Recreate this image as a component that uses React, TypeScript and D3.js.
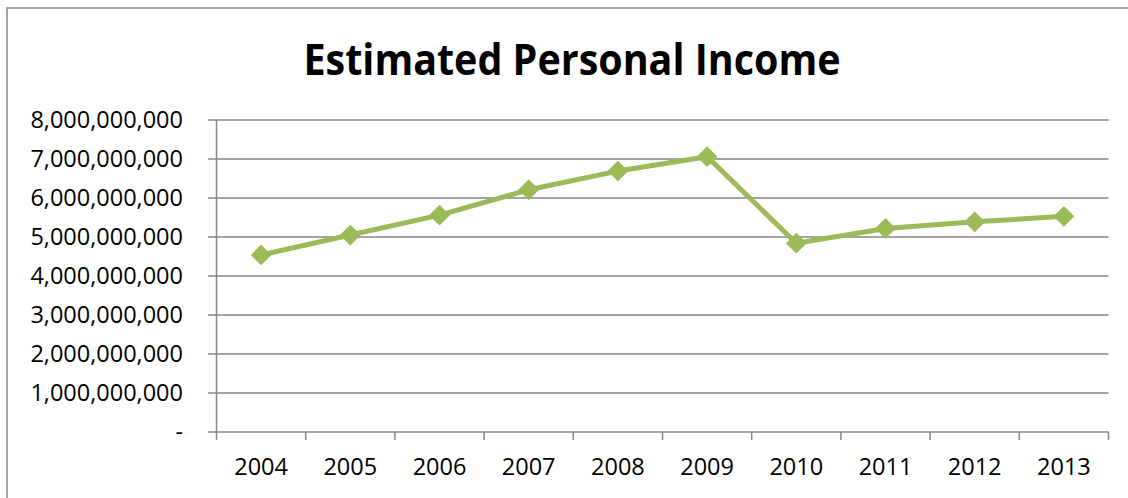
import React from "react";
import * as d3 from "d3";

const width = 1128;
const height = 498;

const years = ["2004", "2005", "2006", "2007", "2008", "2009", "2010", "2011", "2012", "2013"];
const income = [
  4540000000, 5050000000, 5560000000, 6210000000, 6690000000,
  7060000000, 4840000000, 5220000000, 5390000000, 5530000000,
];
const yTicks = [0, 1e9, 2e9, 3e9, 4e9, 5e9, 6e9, 7e9, 8e9];

const marginLeft = 216.5;
const marginRight = 19.5;
const marginTop = 120;
const plotBottom = 432;

const gridColor = "#868686";
const lineColor = "#9BBB59";
const font = "'Open Sans', 'Liberation Sans', sans-serif";

const fmt = (v: number) => (v === 0 ? "-" : d3.format(",")(v));

export default function App() {
  const x = d3.scaleBand().domain(years).range([marginLeft, width - marginRight]);
  const y = d3.scaleLinear().domain([0, 8e9]).range([plotBottom, marginTop]);

  const line = d3
    .line<number>()
    .x((_, i) => x(years[i])! + x.bandwidth() / 2)
    .y((d) => y(d));

  const diamond = d3.symbol(d3.symbolSquare, 215)();
  const boundaries = years.map((yr) => x(yr)!).concat([width - marginRight]);

  return (
    <svg
      width={width}
      height={height}
      style={{ position: "absolute", left: 0, top: 0, background: "#fff" }}
      fontFamily={font}
    >
      {/* chart border */}
      <rect x={7} y={8} width={width + 20} height={height + 20} fill="#fff" stroke="#888" strokeWidth={1.5} />

      <text
        x={572}
        y={75}
        textAnchor="middle"
        fontSize={43}
        fontWeight="bold"
        textLength={537}
        lengthAdjust="spacingAndGlyphs"
        fill="#000"
      >
        Estimated Personal Income
      </text>

      {/* gridlines + y ticks */}
      <g className="y-axis">
        {yTicks.map((t) => (
          <g key={t}>
            <line x1={208} x2={width - marginRight} y1={y(t)} y2={y(t)} stroke={gridColor} strokeWidth={1.5} />
            <text x={183} y={y(t)} dy="0.35em" textAnchor="end" fontSize={23.5} fill="#000">
              {fmt(t)}
            </text>
          </g>
        ))}
        <line x1={marginLeft} x2={marginLeft} y1={marginTop} y2={plotBottom} stroke={gridColor} strokeWidth={1.5} />
      </g>

      {/* x axis */}
      <g className="x-axis">
        {boundaries.map((b, i) => (
          <line key={i} x1={b} x2={b} y1={plotBottom} y2={plotBottom + 8} stroke={gridColor} strokeWidth={1.5} />
        ))}
        {years.map((yr) => (
          <text key={yr} x={x(yr)! + x.bandwidth() / 2} y={475} textAnchor="middle" fontSize={23.5} fill="#000">
            {yr}
          </text>
        ))}
      </g>

      <path d={line(income)!} fill="none" stroke={lineColor} strokeWidth={5} strokeLinejoin="round" />
      {income.map((v, i) => (
        <path
          key={years[i]}
          d={diamond!}
          transform={`translate(${x(years[i])! + x.bandwidth() / 2},${y(v)}) rotate(45)`}
          fill={lineColor}
        />
      ))}
    </svg>
  );
}
